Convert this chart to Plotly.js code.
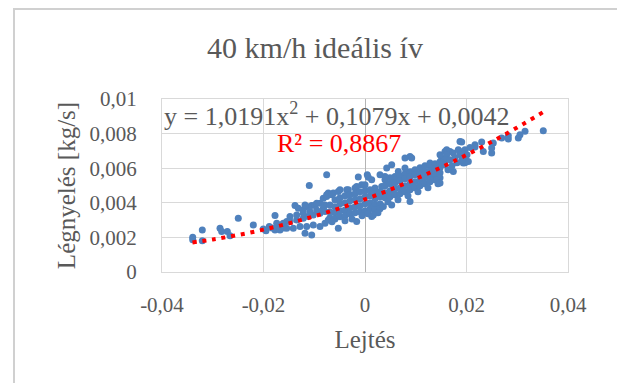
<!DOCTYPE html>
<html>
<head>
<meta charset="utf-8">
<script src="https://cdn.plot.ly/plotly-3.0.1.min.js"></script>
<style>html,body{margin:0;padding:0;background:#fff}#chart{width:617px;height:383px}</style>
</head>
<body>
<div id="chart"></div>
<script>
const chartTitle = '40 km/h ideális ív';
const xTitle = 'Lejtés';
const yTitle = 'Légnyelés [kg/s]';
const equationText = 'y = 1,0191x<sup>2</sup> + 0,1079x + 0,0042';
const r2Text = 'R² = 0,8867';

const xTickVals = [-0.04, -0.02, 0, 0.02, 0.04];
const xTickText = ['-0,04', '-0,02', '0', '0,02', '0,04'];
const yTickVals = [0, 0.002, 0.004, 0.006, 0.008, 0.01];
const yTickText = ['0', '0,002', '0,004', '0,006', '0,008', '0,01'];

// Measured points: Lejtés (x) and Légnyelés (y)
const lejtes = [
  -0.03395,-0.03395,-0.03206,-0.03206,-0.02857,-0.02824,-0.02713,-0.02660,-0.02497,-0.02201,-0.02004,-0.01951,-0.01886,-0.01833,-0.01773,-0.01714,-0.01641,-0.01675,-0.01596,-0.01543,-0.01773,-0.01740,-0.01610,
  -0.01098,-0.01379,-0.01314,-0.01216,-0.01149,-0.01050,-0.00985,-0.00887,-0.00822,-0.00755,-0.00723,-0.00788,-0.01050,-0.01182,
  -0.01543,-0.01413,-0.01281,-0.01149,-0.01019,-0.00887,-0.00788,-0.00723,
  -0.01478,-0.01346,-0.01216,-0.01117,-0.01019,-0.00887,-0.00788,
  -0.01478,-0.01346,-0.01216,-0.01084,-0.00952,-0.00822,
  -0.01182,-0.00952,-0.00755,-0.00624,-0.00526,-0.00361,-0.00197,-0.00755,-0.00132,0.00045,-0.00065,0.00065,0.00132,-0.00493,-0.00329,-0.00164,0.00000,0.00197,0.00329,-0.00526,-0.00164,0.00132,-0.00656,
  -0.00591,-0.00493,-0.00394,-0.00296,-0.00197,-0.00099,0.00000,0.00099,0.00197,0.00296,
  -0.00690,-0.00591,-0.00493,-0.00394,-0.00296,-0.00197,-0.00099,0.00000,0.00099,0.00197,0.00296,
  -0.00690,-0.00591,-0.00493,-0.00394,-0.00296,-0.00197,-0.00099,0.00000,0.00099,0.00197,0.00296,
  -0.00690,-0.00591,-0.00493,-0.00394,-0.00296,-0.00197,-0.00099,0.00000,0.00099,0.00197,0.00296,
  -0.00650,-0.00394,-0.00256,-0.00059,0.00059,0.00256,
  0.00887,0.00920,0.00788,0.00526,0.00428,0.00656,0.00591,0.00887,0.00526,0.00361,0.01511,0.01444,0.01281,
  0.00394,0.00493,0.00591,0.00690,0.00788,0.00887,0.00985,0.01084,0.01182,0.01281,0.01379,0.01478,
  0.00394,0.00493,0.00591,0.00690,0.00788,0.00887,0.00985,0.01084,0.01182,0.01281,0.01379,0.01478,
  0.00394,0.00493,0.00591,0.00690,0.00788,0.00887,0.00985,0.01084,0.01182,0.01281,0.01379,0.01478,
  0.00394,0.00493,0.00591,0.00690,0.00788,0.00887,0.00985,0.01084,0.01182,0.01281,0.01379,0.01478,
  0.00453,0.00650,0.00847,0.01044,0.01241,0.01438,
  0.00164,0.01478,0.01576,0.00788,0.00394,0.00296,
  0.01872,0.01610,0.01413,0.01970,0.01675,
  0.03513,0.03153,0.03054,0.03021,0.02824,0.02824,0.02694,0.02528,0.02496,0.02496,0.02299,0.02167,0.02167,0.02331,0.01905,0.01937,0.01970,0.02036,0.01937,0.01740,0.01610,0.01576,0.01740,0.01511,0.01478,0.01839,
  0.01576,0.01635,0.01675,0.01714,0.01773,0.01813,0.01872,0.01911,0.01970,0.02010,0.02069
];
const legnyeles = [
  0.00201,0.00186,0.00243,0.00181,0.00253,0.00234,0.00234,0.00209,0.00311,0.00272,0.00248,0.00238,0.00263,0.00255,0.00243,0.00263,0.00272,0.00243,0.00255,0.00292,0.00326,0.00282,0.00282,
  0.00500,0.00384,0.00369,0.00359,0.00379,0.00384,0.00388,0.00398,0.00427,0.00437,0.00456,0.00388,0.00214,0.00224,
  0.00253,0.00253,0.00263,0.00263,0.00272,0.00263,0.00282,0.00301,
  0.00292,0.00301,0.00311,0.00321,0.00330,0.00340,0.00350,
  0.00321,0.00330,0.00340,0.00350,0.00359,0.00369,
  0.00388,0.00398,0.00446,0.00456,0.00466,0.00475,0.00485,0.00562,0.00549,0.00562,0.00504,0.00547,0.00533,0.00475,0.00475,0.00494,0.00504,0.00485,0.00494,0.00253,0.00292,0.00321,0.00446,
  0.00417,0.00429,0.00441,0.00446,0.00452,0.00464,0.00470,0.00475,0.00452,0.00464,
  0.00388,0.00377,0.00394,0.00400,0.00412,0.00417,0.00423,0.00435,0.00441,0.00423,0.00435,
  0.00348,0.00342,0.00354,0.00359,0.00371,0.00377,0.00383,0.00394,0.00400,0.00388,0.00394,
  0.00313,0.00307,0.00319,0.00325,0.00336,0.00342,0.00348,0.00354,0.00365,0.00359,0.00365,
  0.00290,0.00296,0.00307,0.00325,0.00336,0.00342,
  0.00668,0.00659,0.00659,0.00620,0.00601,0.00581,0.00552,0.00408,0.00388,0.00379,0.00659,0.00620,0.00630,
  0.00533,0.00545,0.00533,0.00557,0.00568,0.00580,0.00591,0.00603,0.00614,0.00614,0.00626,0.00638,
  0.00499,0.00510,0.00516,0.00528,0.00539,0.00551,0.00562,0.00568,0.00580,0.00586,0.00597,0.00603,
  0.00458,0.00470,0.00481,0.00487,0.00499,0.00510,0.00522,0.00533,0.00545,0.00557,0.00562,0.00574,
  0.00429,0.00435,0.00446,0.00452,0.00464,0.00475,0.00487,0.00499,0.00510,0.00522,0.00533,0.00545,
  0.00406,0.00417,0.00441,0.00464,0.00487,0.00510,
  0.00330,0.00678,0.00697,0.00601,0.00552,0.00562,
  0.00755,0.00707,0.00533,0.00632,0.00697,
  0.00817,0.00813,0.00794,0.00775,0.00769,0.00788,0.00775,0.00746,0.00717,0.00688,0.00752,0.00736,0.00723,0.00697,0.00752,0.00697,0.00659,0.00639,0.00630,0.00688,0.00678,0.00649,0.00581,0.00630,0.00514,0.00707,
  0.00620,0.00591,0.00649,0.00614,0.00661,0.00632,0.00678,0.00649,0.00707,0.00678,0.00719
];

// Polynomial trendline
const trendX = [-0.034,-0.030,-0.025,-0.020,-0.015,-0.010,-0.005,0,0.005,0.010,0.015,0.020,0.025,0.030,0.035];
const trendY = [0.001709,0.001880,0.002139,0.002450,0.002810,0.003223,0.003686,0.0042,0.004765,0.005381,0.006048,0.006766,0.007535,0.008354,0.009225];

const FONT = 'Liberation Serif, Times New Roman, Times, serif';
const GRAY = '#595959';
const GRID = '#d9d9d9';

const traces = [
  {
    type: 'scatter', mode: 'markers', x: lejtes, y: legnyeles,
    marker: {color: '#4F81BD', size: 7, line: {width: 0}},
    hoverinfo: 'skip'
  },
  {
    type: 'scatter', mode: 'lines', x: trendX, y: trendY,
    line: {color: '#FF0000', width: 4, dash: '4px,5.8px', shape: 'spline'},
    hoverinfo: 'skip'
  }
];

const layout = {
  width: 617, height: 383,
  margin: {l: 162, r: 49, t: 99, b: 111},
  paper_bgcolor: '#ffffff', plot_bgcolor: '#ffffff',
  showlegend: false,
  separators: ', ',
  font: {family: FONT, color: GRAY},
  title: {
    text: chartTitle,
    font: {family: FONT, size: 30, color: GRAY},
    xref: 'container', x: 0.5105, xanchor: 'center',
    yref: 'container', y: 0.877, yanchor: 'middle'
  },
  xaxis: {
    range: [-0.04, 0.04], tickmode: 'array', tickvals: xTickVals, ticktext: xTickText,
    showgrid: true, gridcolor: GRID, gridwidth: 1,
    zeroline: true, zerolinecolor: '#b4b4b4', zerolinewidth: 1,
    showline: true, mirror: true, linecolor: GRID, linewidth: 1,
    ticks: '', ticklabelstandoff: 14,
    tickfont: {family: FONT, size: 21, color: GRAY},
    title: {text: xTitle, font: {family: FONT, size: 25, color: GRAY}, standoff: 14},
    fixedrange: true
  },
  yaxis: {
    range: [0, 0.01], tickmode: 'array', tickvals: yTickVals, ticktext: yTickText,
    showgrid: true, gridcolor: GRID, gridwidth: 1,
    zeroline: false,
    showline: true, mirror: true, linecolor: GRID, linewidth: 1,
    ticks: '', ticklabelstandoff: 20,
    tickfont: {family: FONT, size: 21, color: GRAY},
    title: {text: yTitle, font: {family: FONT, size: 25, color: GRAY}, standoff: 6},
    fixedrange: true
  },
  annotations: [
    {
      xref: 'paper', yref: 'paper', x: 0, y: 0.913, xanchor: 'left', yanchor: 'middle',
      text: equationText, showarrow: false,
      font: {family: FONT, size: 26, color: GRAY}
    },
    {
      xref: 'paper', yref: 'paper', x: 0.278, y: 0.742, xanchor: 'left', yanchor: 'middle',
      text: r2Text, showarrow: false,
      font: {family: FONT, size: 26, color: '#FF0000'}
    }
  ],
  shapes: [
    {
      type: 'rect', xref: 'paper', yref: 'paper', layer: 'below',
      x0: -0.3645, x1: 1.3, y0: -0.75, y1: 1.52,
      line: {color: '#d0d0d0', width: 2}, fillcolor: 'rgba(0,0,0,0)'
    }
  ]
};

Plotly.newPlot('chart', traces, layout, {staticPlot: true, displayModeBar: false});
</script>
</body>
</html>
